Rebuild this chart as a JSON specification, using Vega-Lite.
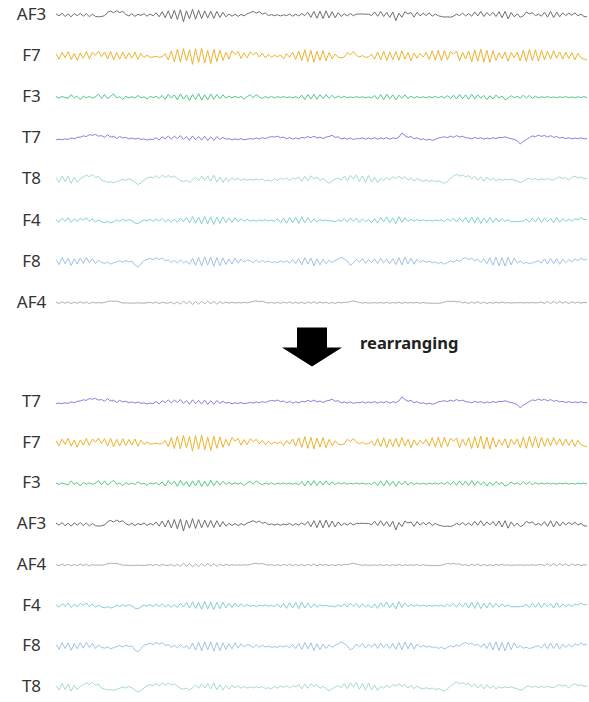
{
"$schema": "https://vega.github.io/schema/vega-lite/v6.json",
"padding": {"left": 16, "top": 0, "right": 0, "bottom": 0},
"background": "white",
"spacing": 0,
"bounds": "flush",
"config": {"view": {"stroke": null}},
"datasets": {"eeg": [
{"t":0,"AF3":0.8,"F7":1.5,"F3":0.4,"T7":-1,"T8":1,"F4":0.6,"F8":1.4,"AF4":0.3},
{"t":1,"AF3":-0.6,"F7":-2,"F3":-0.6,"T7":-0.6,"T8":-2,"F4":-1,"F8":-2,"AF4":-0.5},
{"t":2,"AF3":1.2,"F7":2.5,"F3":0.5,"T7":-0.9,"T8":2.4,"F4":1.4,"F8":2.6,"AF4":0.6},
{"t":3,"AF3":-1,"F7":-1,"F3":-0.3,"T7":-0.4,"T8":-1.6,"F4":-0.4,"F8":-1.4,"AF4":-0.4},
{"t":4,"AF3":0.7,"F7":3,"F3":-0.8,"T7":-0.8,"T8":2,"F4":1.8,"F8":2.2,"AF4":0.5},
{"t":5,"AF3":-1.2,"F7":-2.2,"F3":1.8,"T7":0.2,"T8":-2.6,"F4":-1.2,"F8":-2.6,"AF4":-0.6},
{"t":6,"AF3":1,"F7":1.8,"F3":-0.5,"T7":-0.3,"T8":1.2,"F4":1,"F8":1.8,"AF4":0.4},
{"t":7,"AF3":-0.5,"F7":-2.8,"F3":0.6,"T7":0.6,"T8":-1.8,"F4":-0.8,"F8":-1.6,"AF4":-0.5},
{"t":8,"AF3":1.1,"F7":2,"F3":-1.6,"T7":0.8,"T8":0.4,"F4":1.6,"F8":2.4,"AF4":0.6},
{"t":9,"AF3":-0.8,"F7":-1.5,"F3":0.8,"T7":1.6,"T8":1.6,"F4":0.2,"F8":-1.2,"AF4":-0.4},
{"t":10,"AF3":0.9,"F7":3,"F3":-0.4,"T7":1.2,"T8":2.8,"F4":1.8,"F8":2.8,"AF4":0.5},
{"t":11,"AF3":-1.1,"F7":-1.8,"F3":0.5,"T7":2.4,"T8":1.8,"F4":-0.6,"F8":-0.8,"AF4":-0.6},
{"t":12,"AF3":0.5,"F7":2.6,"F3":-0.6,"T7":2,"T8":3.2,"F4":1.2,"F8":2,"AF4":0.3},
{"t":13,"AF3":-0.9,"F7":0.5,"F3":0.3,"T7":2.6,"T8":1.2,"F4":-1,"F8":-1.4,"AF4":-0.2},
{"t":14,"AF3":-1.2,"F7":3.2,"F3":2,"T7":1.4,"T8":2,"F4":0.4,"F8":1,"AF4":0.1},
{"t":15,"AF3":-1,"F7":-0.4,"F3":-0.8,"T7":1.8,"T8":-0.6,"F4":-0.8,"F8":-0.6,"AF4":-0.2},
{"t":16,"AF3":-0.5,"F7":2.8,"F3":1.8,"T7":0.6,"T8":-1.2,"F4":-1.4,"F8":-1.2,"AF4":0.2},
{"t":17,"AF3":1.8,"F7":-2,"F3":-1,"T7":2.4,"T8":-2,"F4":-0.6,"F8":-0.4,"AF4":0.8},
{"t":18,"AF3":2.6,"F7":3,"F3":0.6,"T7":0.8,"T8":-1.6,"F4":-1.6,"F8":-1.6,"AF4":1.2},
{"t":19,"AF3":1.5,"F7":-2.6,"F3":2.2,"T7":1.4,"T8":-2.2,"F4":-0.8,"F8":-0.8,"AF4":0.9},
{"t":20,"AF3":2.8,"F7":2.4,"F3":-0.5,"T7":-0.2,"T8":-1.4,"F4":0.4,"F8":-0.2,"AF4":1.1},
{"t":21,"AF3":1.6,"F7":-2,"F3":0.4,"T7":1.2,"T8":-0.8,"F4":-0.6,"F8":0.6,"AF4":0.4},
{"t":22,"AF3":2.4,"F7":2.8,"F3":-1.4,"T7":0.2,"T8":0.2,"F4":0.8,"F8":-0.4,"AF4":-0.2},
{"t":23,"AF3":0.4,"F7":-1.8,"F3":0.6,"T7":0.6,"T8":-0.6,"F4":-0.4,"F8":0.8,"AF4":-0.1},
{"t":24,"AF3":-0.6,"F7":2.2,"F3":-0.5,"T7":-0.4,"T8":0.4,"F4":0.6,"F8":-0.2,"AF4":-0.3},
{"t":25,"AF3":0.8,"F7":-1.4,"F3":0.4,"T7":0.2,"T8":-0.4,"F4":-0.2,"F8":0.4,"AF4":-0.2},
{"t":26,"AF3":-0.9,"F7":2.6,"F3":-0.6,"T7":-0.6,"T8":-2,"F4":-1.6,"F8":-2.4,"AF4":-0.3},
{"t":27,"AF3":0.5,"F7":-2.2,"F3":1.2,"T7":0.1,"T8":-3.4,"F4":-2.2,"F8":-3.6,"AF4":-0.1},
{"t":28,"AF3":-0.3,"F7":1.8,"F3":-0.4,"T7":-0.8,"T8":-2.2,"F4":-0.6,"F8":-1.6,"AF4":-0.2},
{"t":29,"AF3":0.9,"F7":-1,"F3":0.3,"T7":-0.4,"T8":-0.6,"F4":0.4,"F8":0.8,"AF4":-0.3},
{"t":30,"AF3":-0.8,"F7":0.6,"F3":-1.2,"T7":-1.2,"T8":0.8,"F4":-0.4,"F8":1.4,"AF4":-0.1},
{"t":31,"AF3":0.6,"F7":-0.8,"F3":0.5,"T7":-0.6,"T8":1.6,"F4":0.8,"F8":2.2,"AF4":0.3},
{"t":32,"AF3":-0.5,"F7":-0.6,"F3":-0.3,"T7":-0.8,"T8":1,"F4":-0.6,"F8":1.2,"AF4":-0.4},
{"t":33,"AF3":1.5,"F7":-0.2,"F3":0.6,"T7":0.4,"T8":2.4,"F4":1,"F8":2.6,"AF4":0.5},
{"t":34,"AF3":-1.2,"F7":-0.8,"F3":-0.8,"T7":-1.2,"T8":0.8,"F4":-0.4,"F8":1.4,"AF4":-0.6},
{"t":35,"AF3":2.2,"F7":-0.4,"F3":1.2,"T7":1,"T8":2.8,"F4":1.2,"F8":2.4,"AF4":0.3},
{"t":36,"AF3":-1.8,"F7":1.5,"F3":-1.6,"T7":-0.4,"T8":1.2,"F4":-0.8,"F8":0.6,"AF4":-0.2},
{"t":37,"AF3":2.8,"F7":-2.5,"F3":2,"T7":1.6,"T8":2.6,"F4":0.6,"F8":1.2,"AF4":-0.3},
{"t":38,"AF3":-2.5,"F7":3.5,"F3":-0.6,"T7":-0.6,"T8":1.4,"F4":-1,"F8":-0.6,"AF4":0.4},
{"t":39,"AF3":3.2,"F7":-3.8,"F3":1.6,"T7":1.4,"T8":2.2,"F4":0.8,"F8":0.8,"AF4":-0.8},
{"t":40,"AF3":-3,"F7":4.5,"F3":-1.8,"T7":-0.2,"T8":0.6,"F4":-1.2,"F8":-1,"AF4":0.6},
{"t":41,"AF3":3.5,"F7":-4,"F3":2.2,"T7":1.8,"T8":-0.8,"F4":1.6,"F8":1.2,"AF4":-1},
{"t":42,"AF3":-4.5,"F7":5,"F3":-1.2,"T7":-0.8,"T8":-1.4,"F4":-0.8,"F8":-0.8,"AF4":1.2},
{"t":43,"AF3":2.8,"F7":-3.2,"F3":1.4,"T7":1.2,"T8":-0.6,"F4":2.2,"F8":0.4,"AF4":-0.9},
{"t":44,"AF3":-2.6,"F7":4.2,"F3":-2.2,"T7":-1.4,"T8":-2,"F4":-1.6,"F8":-1.8,"AF4":1.1},
{"t":45,"AF3":3.8,"F7":-5.5,"F3":1.8,"T7":1.6,"T8":-0.4,"F4":2.6,"F8":2.2,"AF4":-1.2},
{"t":46,"AF3":-2.8,"F7":4.8,"F3":-1.6,"T7":-1,"T8":1.4,"F4":-1.8,"F8":-2.6,"AF4":0.8},
{"t":47,"AF3":3.2,"F7":-4.2,"F3":2.4,"T7":1.2,"T8":-0.8,"F4":2.2,"F8":2.8,"AF4":-1},
{"t":48,"AF3":-2.4,"F7":5.2,"F3":-2,"T7":-1.2,"T8":2.2,"F4":-2.4,"F8":-3,"AF4":0.9},
{"t":49,"AF3":2.8,"F7":-4.6,"F3":1.6,"T7":1.4,"T8":-0.6,"F4":2.8,"F8":3.2,"AF4":-0.7},
{"t":50,"AF3":-2,"F7":3.8,"F3":-1.8,"T7":-1.6,"T8":2.4,"F4":-2.2,"F8":-2.4,"AF4":1},
{"t":51,"AF3":2.6,"F7":-5,"F3":2.2,"T7":1,"T8":-1.2,"F4":2.4,"F8":3,"AF4":-0.8},
{"t":52,"AF3":-2.2,"F7":4.5,"F3":-1.4,"T7":-1.4,"T8":2.8,"F4":-2.6,"F8":-3.2,"AF4":0.9},
{"t":53,"AF3":2.4,"F7":-3.6,"F3":1.8,"T7":1.2,"T8":-1.8,"F4":2.2,"F8":2.6,"AF4":-1},
{"t":54,"AF3":-1.6,"F7":4,"F3":-1,"T7":-0.8,"T8":1.6,"F4":-2,"F8":-2.8,"AF4":0.7},
{"t":55,"AF3":1.8,"F7":-3,"F3":1.6,"T7":0.6,"T8":-2,"F4":2.4,"F8":2.4,"AF4":-0.5},
{"t":56,"AF3":-1.2,"F7":2.4,"F3":-0.6,"T7":-0.6,"T8":1,"F4":-1.4,"F8":-2,"AF4":0.4},
{"t":57,"AF3":0.6,"F7":-2,"F3":0.8,"T7":-0.2,"T8":-1.4,"F4":1.6,"F8":1.8,"AF4":-0.3},
{"t":58,"AF3":-0.8,"F7":3.6,"F3":-0.5,"T7":-1,"T8":1.2,"F4":-1.2,"F8":-1.6,"AF4":0.2},
{"t":59,"AF3":0.5,"F7":1.2,"F3":0.6,"T7":-0.4,"T8":-0.4,"F4":1.8,"F8":2.4,"AF4":-0.2},
{"t":60,"AF3":-0.9,"F7":3,"F3":-0.4,"T7":-0.8,"T8":0.8,"F4":-0.8,"F8":-1,"AF4":0.1},
{"t":61,"AF3":0.4,"F7":-1.6,"F3":0.5,"T7":-0.3,"T8":-0.8,"F4":1.2,"F8":1.8,"AF4":-0.2},
{"t":62,"AF3":-0.6,"F7":2.2,"F3":-1.2,"T7":-1,"T8":0.4,"F4":-0.6,"F8":-0.4,"AF4":0.2},
{"t":63,"AF3":0.8,"F7":-1.2,"F3":0.4,"T7":-0.6,"T8":-0.6,"F4":0.8,"F8":1.2,"AF4":-0.1},
{"t":64,"AF3":1.6,"F7":2.8,"F3":1.6,"T7":-0.2,"T8":0.2,"F4":-0.4,"F8":0.6,"AF4":0.3},
{"t":65,"AF3":2.4,"F7":0.8,"F3":-0.4,"T7":-0.6,"T8":-0.6,"F4":0.3,"F8":-0.8,"AF4":0.9},
{"t":66,"AF3":1.2,"F7":2.4,"F3":1.8,"T7":0.2,"T8":0.3,"F4":-0.6,"F8":1.2,"AF4":1.2},
{"t":67,"AF3":2.2,"F7":-0.6,"F3":0.2,"T7":-0.4,"T8":-0.5,"F4":0.4,"F8":-0.6,"AF4":0.7},
{"t":68,"AF3":0.6,"F7":1.8,"F3":-0.8,"T7":0.4,"T8":0.4,"F4":-0.2,"F8":0.8,"AF4":1},
{"t":69,"AF3":1.4,"F7":-1.2,"F3":0.4,"T7":-0.2,"T8":-1,"F4":0.5,"F8":-0.4,"AF4":0.3},
{"t":70,"AF3":-0.4,"F7":1.2,"F3":-0.5,"T7":0.6,"T8":-0.4,"F4":-0.4,"F8":0.2,"AF4":-0.2},
{"t":71,"AF3":0.3,"F7":-0.8,"F3":0.6,"T7":1.2,"T8":-1.2,"F4":0.3,"F8":-0.6,"AF4":0.2},
{"t":72,"AF3":-0.5,"F7":0.6,"F3":-0.6,"T7":0.8,"T8":0.4,"F4":-0.6,"F8":-0.2,"AF4":-0.4},
{"t":73,"AF3":0.2,"F7":-0.5,"F3":0.4,"T7":1.4,"T8":-0.6,"F4":1.2,"F8":-0.6,"AF4":0.3},
{"t":74,"AF3":-0.6,"F7":0.8,"F3":-0.3,"T7":0.4,"T8":0.8,"F4":-1.4,"F8":0.4,"AF4":-0.5},
{"t":75,"AF3":0.1,"F7":-1.8,"F3":0.5,"T7":0.8,"T8":-0.2,"F4":1.6,"F8":-0.4,"AF4":0.4},
{"t":76,"AF3":-0.4,"F7":1.6,"F3":-0.4,"T7":-0.4,"T8":1,"F4":-1.8,"F8":0.6,"AF4":-0.3},
{"t":77,"AF3":0.6,"F7":-0.8,"F3":0.3,"T7":0.6,"T8":-0.6,"F4":2,"F8":-1,"AF4":0.5},
{"t":78,"AF3":-0.8,"F7":2.6,"F3":-0.5,"T7":-0.6,"T8":0.8,"F4":-1.6,"F8":1.4,"AF4":-0.4},
{"t":79,"AF3":0.5,"F7":-2.2,"F3":0.4,"T7":0.2,"T8":0.2,"F4":2.2,"F8":-1.4,"AF4":0.3},
{"t":80,"AF3":-0.6,"F7":3.4,"F3":-0.8,"T7":-0.4,"T8":1.6,"F4":-2,"F8":2,"AF4":-0.5},
{"t":81,"AF3":0.9,"F7":-3,"F3":1.4,"T7":0.6,"T8":-1.2,"F4":2.4,"F8":-2.2,"AF4":0.4},
{"t":82,"AF3":-0.4,"F7":4.2,"F3":-1.6,"T7":0.2,"T8":2,"F4":-1.6,"F8":2.6,"AF4":-0.6},
{"t":83,"AF3":1.8,"F7":-3.6,"F3":1.8,"T7":1.2,"T8":-0.8,"F4":1.8,"F8":-1.6,"AF4":0.5},
{"t":84,"AF3":-1.6,"F7":3.8,"F3":-1.2,"T7":0.4,"T8":2.4,"F4":-1.4,"F8":2.4,"AF4":-0.4},
{"t":85,"AF3":2.4,"F7":-4,"F3":2,"T7":1.4,"T8":0.4,"F4":1.2,"F8":-2.8,"AF4":0.6},
{"t":86,"AF3":-2.2,"F7":3.2,"F3":-1.4,"T7":0.2,"T8":1.6,"F4":-1,"F8":1.8,"AF4":-0.5},
{"t":87,"AF3":2.6,"F7":-2.8,"F3":1.6,"T7":0.8,"T8":-0.8,"F4":0.6,"F8":-2.2,"AF4":0.4},
{"t":88,"AF3":-2.4,"F7":3.6,"F3":-1,"T7":-0.2,"T8":0.6,"F4":-0.2,"F8":1.6,"AF4":-0.3},
{"t":89,"AF3":2.8,"F7":-3.2,"F3":1.8,"T7":0.8,"T8":-1,"F4":0.3,"F8":-1.4,"AF4":0.4},
{"t":90,"AF3":-2,"F7":2.4,"F3":-0.8,"T7":1.2,"T8":-2.6,"F4":-0.4,"F8":1,"AF4":-0.5},
{"t":91,"AF3":2.2,"F7":-1.8,"F3":1.2,"T7":2,"T8":-1.2,"F4":-0.2,"F8":-0.6,"AF4":0.3},
{"t":92,"AF3":-1.8,"F7":1.4,"F3":-0.6,"T7":0.6,"T8":0.2,"F4":-0.8,"F8":0.8,"AF4":-0.6},
{"t":93,"AF3":1.6,"F7":-0.8,"F3":0.8,"T7":1,"T8":0.8,"F4":0.4,"F8":1.6,"AF4":0.4},
{"t":94,"AF3":-1,"F7":-1.2,"F3":-0.4,"T7":-0.4,"T8":-0.4,"F4":-0.6,"F8":3,"AF4":-0.2},
{"t":95,"AF3":0.8,"F7":-0.6,"F3":0.6,"T7":0.2,"T8":2.2,"F4":1.2,"F8":1.8,"AF4":0.3},
{"t":96,"AF3":-0.6,"F7":2.4,"F3":-0.4,"T7":-0.6,"T8":-1,"F4":-1,"F8":0.4,"AF4":0.2},
{"t":97,"AF3":1,"F7":0.8,"F3":0.2,"T7":0.2,"T8":2.8,"F4":1.6,"F8":-2.4,"AF4":0.8},
{"t":98,"AF3":-0.5,"F7":3,"F3":-0.3,"T7":-0.8,"T8":0.2,"F4":-0.4,"F8":-1,"AF4":1.2},
{"t":99,"AF3":0.6,"F7":0.5,"F3":0.4,"T7":-0.2,"T8":3,"F4":1.4,"F8":1.6,"AF4":0.6},
{"t":100,"AF3":0.6,"F7":-0.6,"F3":-0.2,"T7":-0.4,"T8":-1.4,"F4":-1.2,"F8":-0.4,"AF4":0.2},
{"t":101,"AF3":0.7,"F7":0.4,"F3":0.3,"T7":0.3,"T8":2.4,"F4":1.2,"F8":2,"AF4":-0.3},
{"t":102,"AF3":0.5,"F7":-0.8,"F3":-0.4,"T7":-0.6,"T8":-2,"F4":-0.8,"F8":-1.2,"AF4":0.1},
{"t":103,"AF3":0.6,"F7":-0.5,"F3":0.2,"T7":0.2,"T8":2.6,"F4":0.6,"F8":1.4,"AF4":-0.2},
{"t":104,"AF3":-0.4,"F7":1.2,"F3":-0.6,"T7":-0.4,"T8":-1.8,"F4":-1.6,"F8":-0.6,"AF4":-0.2},
{"t":105,"AF3":2,"F7":-2,"F3":1.2,"T7":0.4,"T8":1.4,"F4":1.2,"F8":1.8,"AF4":0.1},
{"t":106,"AF3":-0.8,"F7":2.8,"F3":-1.4,"T7":-0.6,"T8":-2.2,"F4":-1.8,"F8":-1.4,"AF4":-0.3},
{"t":107,"AF3":2.4,"F7":-2.6,"F3":1.8,"T7":0.2,"T8":0.6,"F4":2,"F8":2.2,"AF4":0.2},
{"t":108,"AF3":-1,"F7":3.4,"F3":-1.6,"T7":-0.3,"T8":-0.8,"F4":-0.8,"F8":-0.8,"AF4":-0.4},
{"t":109,"AF3":1.8,"F7":-3,"F3":2,"T7":0.5,"T8":1.2,"F4":2.4,"F8":1.6,"AF4":0.3},
{"t":110,"AF3":-1.6,"F7":2.6,"F3":-1.2,"T7":-0.6,"T8":-0.4,"F4":-1.4,"F8":-1.4,"AF4":-0.5},
{"t":111,"AF3":2,"F7":-2.4,"F3":1.6,"T7":0.3,"T8":1.8,"F4":1.8,"F8":2,"AF4":0.2},
{"t":112,"AF3":-3.8,"F7":3,"F3":-1.8,"T7":-0.2,"T8":0.6,"F4":-2.2,"F8":-2,"AF4":-0.3},
{"t":113,"AF3":1.2,"F7":-2.8,"F3":1.4,"T7":0.8,"T8":2.2,"F4":2.6,"F8":2.6,"AF4":0.4},
{"t":114,"AF3":-1.5,"F7":3.6,"F3":-0.8,"T7":3.6,"T8":0.4,"F4":-1.2,"F8":-2.2,"AF4":-0.5},
{"t":115,"AF3":2.2,"F7":-2,"F3":1.6,"T7":1.8,"T8":1.8,"F4":1.8,"F8":3,"AF4":0.2},
{"t":116,"AF3":0.8,"F7":2.4,"F3":-1,"T7":0.6,"T8":-0.6,"F4":-0.6,"F8":-1.6,"AF4":-0.3},
{"t":117,"AF3":1.6,"F7":-3.2,"F3":0.8,"T7":1.2,"T8":1,"F4":0.8,"F8":2.4,"AF4":0.1},
{"t":118,"AF3":-1.4,"F7":2,"F3":-0.6,"T7":-0.4,"T8":-1,"F4":-0.4,"F8":-1.8,"AF4":-0.2},
{"t":119,"AF3":1.8,"F7":-1.5,"F3":0.5,"T7":0.4,"T8":0.6,"F4":0.6,"F8":1.6,"AF4":0.3},
{"t":120,"AF3":-0.6,"F7":1.8,"F3":-0.4,"T7":-0.8,"T8":-0.6,"F4":-0.2,"F8":-0.6,"AF4":-0.4},
{"t":121,"AF3":1.2,"F7":-0.6,"F3":0.3,"T7":-0.4,"T8":-1.2,"F4":0.4,"F8":0.8,"AF4":0.2},
{"t":122,"AF3":-0.4,"F7":2.4,"F3":-0.5,"T7":-1.2,"T8":-0.4,"F4":-0.3,"F8":-0.4,"AF4":-0.3},
{"t":123,"AF3":1.4,"F7":-2.2,"F3":0.4,"T7":-0.6,"T8":-1.4,"F4":0.2,"F8":0.2,"AF4":-0.2},
{"t":124,"AF3":-0.8,"F7":3.6,"F3":-0.3,"T7":-1.4,"T8":-0.6,"F4":-0.4,"F8":-0.8,"AF4":-0.5},
{"t":125,"AF3":0.6,"F7":-2.8,"F3":0.5,"T7":-0.8,"T8":-1.6,"F4":0.3,"F8":-0.2,"AF4":-0.3},
{"t":126,"AF3":-0.5,"F7":4,"F3":-0.4,"T7":0.2,"T8":-1,"F4":-0.2,"F8":-1.4,"AF4":-0.4},
{"t":127,"AF3":-1,"F7":-3,"F3":0.6,"T7":0.6,"T8":-1.8,"F4":0.4,"F8":-0.4,"AF4":-0.1},
{"t":128,"AF3":-1.4,"F7":3.8,"F3":-0.5,"T7":1,"T8":-2.6,"F4":-0.6,"F8":-1.8,"AF4":0.4},
{"t":129,"AF3":-1.2,"F7":-2.4,"F3":1,"T7":0.4,"T8":-1.2,"F4":1,"F8":-0.6,"AF4":1},
{"t":130,"AF3":-1.5,"F7":3,"F3":-0.8,"T7":1.4,"T8":0.6,"F4":-0.4,"F8":0.4,"AF4":0.7},
{"t":131,"AF3":-0.8,"F7":1.2,"F3":1.4,"T7":0.6,"T8":2.2,"F4":1.6,"F8":-0.4,"AF4":1.1},
{"t":132,"AF3":0.6,"F7":3.4,"F3":-1.2,"T7":1.8,"T8":3.4,"F4":-1,"F8":1,"AF4":0.5},
{"t":133,"AF3":-0.4,"F7":-3.2,"F3":1.8,"T7":0.8,"T8":2.2,"F4":1.8,"F8":0.2,"AF4":0.8},
{"t":134,"AF3":1.2,"F7":2.6,"F3":-1,"T7":1.4,"T8":3,"F4":-0.8,"F8":1.8,"AF4":-0.2},
{"t":135,"AF3":-0.6,"F7":-2,"F3":1.6,"T7":0.4,"T8":1.6,"F4":2,"F8":2.6,"AF4":0.3},
{"t":136,"AF3":0.9,"F7":3.4,"F3":-1.4,"T7":0.2,"T8":2.6,"F4":-1.6,"F8":1.4,"AF4":-0.6},
{"t":137,"AF3":-0.8,"F7":-3.8,"F3":2,"T7":-0.4,"T8":0.2,"F4":2.4,"F8":2.2,"AF4":0.5},
{"t":138,"AF3":2,"F7":4.2,"F3":-1.2,"T7":0.6,"T8":2.2,"F4":-1.8,"F8":0.6,"AF4":-0.4},
{"t":139,"AF3":-0.6,"F7":-3.4,"F3":1.6,"T7":-0.2,"T8":-0.6,"F4":2.2,"F8":1.6,"AF4":0.7},
{"t":140,"AF3":2.4,"F7":4.6,"F3":-0.8,"T7":0.4,"T8":1.8,"F4":-2,"F8":-0.6,"AF4":-0.5},
{"t":141,"AF3":-1,"F7":-4,"F3":1.2,"T7":-0.6,"T8":-1.2,"F4":1.6,"F8":1.8,"AF4":0.4},
{"t":142,"AF3":1.6,"F7":3.8,"F3":-1.6,"T7":0.2,"T8":1.6,"F4":-1.4,"F8":-1.4,"AF4":-0.6},
{"t":143,"AF3":-0.4,"F7":-4.2,"F3":1,"T7":-0.4,"T8":-0.8,"F4":2,"F8":2.6,"AF4":0.3},
{"t":144,"AF3":1.8,"F7":3.6,"F3":-1.2,"T7":0.4,"T8":0.8,"F4":-1.2,"F8":-2.4,"AF4":-0.5},
{"t":145,"AF3":-1,"F7":-2.8,"F3":1.4,"T7":-0.2,"T8":-1.2,"F4":1.6,"F8":3,"AF4":0.4},
{"t":146,"AF3":2.2,"F7":2.2,"F3":-0.6,"T7":0.6,"T8":0.4,"F4":-1,"F8":-2.8,"AF4":-0.3},
{"t":147,"AF3":-1.8,"F7":-1.6,"F3":0.8,"T7":0.4,"T8":-0.6,"F4":1.2,"F8":2.6,"AF4":0.5},
{"t":148,"AF3":2.4,"F7":2.8,"F3":-1.8,"T7":1,"T8":0.2,"F4":-0.6,"F8":-3,"AF4":-0.2},
{"t":149,"AF3":-2.6,"F7":-3.4,"F3":-0.6,"T7":0.2,"T8":-0.4,"F4":0.4,"F8":2.8,"AF4":0.1},
{"t":150,"AF3":1.6,"F7":2.4,"F3":1,"T7":-0.2,"T8":0.2,"F4":-0.8,"F8":-2.2,"AF4":-0.3},
{"t":151,"AF3":-1.2,"F7":-1,"F3":-0.4,"T7":-0.8,"T8":-0.6,"F4":-0.6,"F8":2.4,"AF4":0},
{"t":152,"AF3":0.8,"F7":2.6,"F3":0.6,"T7":-1.6,"T8":-1,"F4":-0.8,"F8":-1,"AF4":-0.1},
{"t":153,"AF3":-1.5,"F7":-3.2,"F3":-0.8,"T7":-3.8,"T8":-2.2,"F4":-0.6,"F8":0.4,"AF4":0.1},
{"t":154,"AF3":-0.6,"F7":4,"F3":1.4,"T7":-2,"T8":-1.4,"F4":-0.4,"F8":-1.2,"AF4":-0.2},
{"t":155,"AF3":2,"F7":-3.6,"F3":-0.6,"T7":-0.8,"T8":0.2,"F4":1,"F8":-0.6,"AF4":0},
{"t":156,"AF3":0.8,"F7":4.4,"F3":1.2,"T7":0.4,"T8":0.8,"F4":-1.2,"F8":-1.4,"AF4":-0.1},
{"t":157,"AF3":1.6,"F7":-3,"F3":-0.8,"T7":1.6,"T8":-0.2,"F4":1.6,"F8":-0.8,"AF4":0.1},
{"t":158,"AF3":-0.5,"F7":4.2,"F3":0.6,"T7":1,"T8":0.6,"F4":-1,"F8":-0.2,"AF4":-0.2},
{"t":159,"AF3":0.6,"F7":-3.4,"F3":-0.4,"T7":2.2,"T8":-0.4,"F4":2,"F8":0.6,"AF4":0.1},
{"t":160,"AF3":-0.8,"F7":3.8,"F3":0.3,"T7":1.2,"T8":0.4,"F4":-1.4,"F8":-1.2,"AF4":0.4},
{"t":161,"AF3":1.8,"F7":-2.4,"F3":-0.2,"T7":2,"T8":-0.2,"F4":1.8,"F8":1.8,"AF4":-0.5},
{"t":162,"AF3":-1.4,"F7":3.2,"F3":0.4,"T7":0.8,"T8":0.6,"F4":-0.8,"F8":-1.6,"AF4":0.8},
{"t":163,"AF3":2.4,"F7":-2,"F3":-0.3,"T7":1.8,"T8":-0.2,"F4":1.4,"F8":2.2,"AF4":-0.6},
{"t":164,"AF3":-1.8,"F7":3.6,"F3":0.2,"T7":0.6,"T8":-0.4,"F4":-1.6,"F8":-1.4,"AF4":0.9},
{"t":165,"AF3":2,"F7":-1.4,"F3":-0.4,"T7":1.2,"T8":0.8,"F4":2,"F8":2,"AF4":-0.5},
{"t":166,"AF3":-1.2,"F7":2.8,"F3":0.3,"T7":0.2,"T8":1.6,"F4":-1.2,"F8":-1.8,"AF4":1},
{"t":167,"AF3":1.4,"F7":-2,"F3":-0.2,"T7":0.6,"T8":0.6,"F4":1.2,"F8":1.6,"AF4":-0.4},
{"t":168,"AF3":-0.4,"F7":2.6,"F3":0.4,"T7":-0.2,"T8":1.2,"F4":-0.6,"F8":-0.8,"AF4":0.8},
{"t":169,"AF3":1.2,"F7":-1.6,"F3":-0.3,"T7":0.4,"T8":-0.6,"F4":0.8,"F8":1.4,"AF4":-0.6},
{"t":170,"AF3":-0.2,"F7":2.2,"F3":0.2,"T7":-0.4,"T8":1.4,"F4":-0.4,"F8":-0.4,"AF4":0.7},
{"t":171,"AF3":1.4,"F7":-2.4,"F3":-0.4,"T7":0.2,"T8":2.2,"F4":1.2,"F8":1.8,"AF4":-0.3},
{"t":172,"AF3":-0.5,"F7":1.8,"F3":0.3,"T7":-0.3,"T8":1,"F4":0.4,"F8":0.6,"AF4":0.5},
{"t":173,"AF3":0.6,"F7":-1.2,"F3":-0.2,"T7":0.3,"T8":1.6,"F4":1.8,"F8":2.4,"AF4":-0.4},
{"t":174,"AF3":-1,"F7":-2,"F3":0.4,"T7":-0.4,"T8":0.4,"F4":0.6,"F8":1,"AF4":0.2},
{"t":175,"AF3":-1.2,"F7":-2.6,"F3":-0.3,"T7":-0.2,"T8":0.8,"F4":0.8,"F8":1.6,"AF4":-0.1}
]},
"vconcat": [
{
 "data": {"name": "eeg"},
 "transform": [{"fold": ["AF3","F7","F3","T7","T8","F4","F8","AF4"], "as": ["ch","v"]}],
 "width": 531, "height": 318,
 "mark": {"type": "line", "strokeWidth": 1, "clip": false},
 "encoding": {
  "x": {"field": "t", "type": "quantitative", "scale": {"domain": [0,175], "nice": false, "zero": false}, "axis": null},
  "y": {"field": "ch", "type": "nominal", "sort": ["AF3","F7","F3","T7","T8","F4","F8","AF4"],
    "scale": {"type": "band", "paddingInner": 0, "paddingOuter": 0, "range": [-5.55, 323.25]},
    "axis": {"title": null, "ticks": false, "tickSize": 0, "domain": false, "grid": false, "labelAlign": "center", "labelBaseline": "middle", "labelPadding": 25, "labelFont": "Noto Sans", "labelFontSize": 17, "labelColor": "#333333"}},
  "yOffset": {"field": "v", "type": "quantitative", "scale": {"domain": [-10,10], "range": [35.55, 5.55], "nice": false, "zero": false}},
  "order": {"field": "t", "type": "quantitative"},
  "color": {"field": "ch", "type": "nominal", "legend": null,
    "scale": {"domain": ["AF3","F7","F3","T7","T8","F4","F8","AF4"], "range": ["#6e6e76","#eeb32e","#52c987","#8a80dc","#a3dec4","#82d0d6","#9fc4e6","#b0b0b0"]}}
 }
},
{
 "width": 531, "height": 69,
 "layer": [
  {
   "data": {"values": [{"x": 312, "y": 347}]},
   "mark": {"type": "point", "shape": "M-0.5,-0.65L0.5,-0.65L0.5,0.02L1,0.02L0,0.65L-1,0.02L-0.5,0.02Z", "filled": true, "color": "#000000", "opacity": 1, "size": 3600, "strokeWidth": 0},
   "encoding": {
    "x": {"field": "x", "type": "quantitative", "scale": {"domain": [56,587], "nice": false, "zero": false}, "axis": null},
    "y": {"field": "y", "type": "quantitative", "scale": {"domain": [387,318], "nice": false, "zero": false}, "axis": null}
   }
  },
  {
   "data": {"values": [{"x": 360, "y": 344, "label": "rearranging"}]},
   "mark": {"type": "text", "align": "left", "baseline": "middle", "font": "Noto Sans", "fontWeight": "bold", "fontSize": 16.5, "color": "#222222"},
   "encoding": {
    "x": {"field": "x", "type": "quantitative", "scale": {"domain": [56,587], "nice": false, "zero": false}, "axis": null},
    "y": {"field": "y", "type": "quantitative", "scale": {"domain": [387,318], "nice": false, "zero": false}, "axis": null},
    "text": {"field": "label"}
   }
  }
 ]
},
{
 "data": {"name": "eeg"},
 "transform": [{"fold": ["AF3","F7","F3","T7","T8","F4","F8","AF4"], "as": ["ch","v"]}],
 "width": 531, "height": 315,
 "mark": {"type": "line", "strokeWidth": 1, "clip": false},
 "encoding": {
  "x": {"field": "t", "type": "quantitative", "scale": {"domain": [0,175], "nice": false, "zero": false}, "axis": null},
  "y": {"field": "ch", "type": "nominal", "sort": ["T7","F7","F3","AF3","AF4","F4","F8","T8"],
    "scale": {"type": "band", "paddingInner": 0, "paddingOuter": 0, "range": [-5.35, 320.25]},
    "axis": {"title": null, "ticks": false, "tickSize": 0, "domain": false, "grid": false, "labelAlign": "center", "labelBaseline": "middle", "labelPadding": 25, "labelFont": "Noto Sans", "labelFontSize": 17, "labelColor": "#333333"}},
  "yOffset": {"field": "v", "type": "quantitative", "scale": {"domain": [-10,10], "range": [35.35, 5.35], "nice": false, "zero": false}},
  "order": {"field": "t", "type": "quantitative"},
  "color": {"field": "ch", "type": "nominal", "legend": null,
    "scale": {"domain": ["AF3","F7","F3","T7","T8","F4","F8","AF4"], "range": ["#6e6e76","#eeb32e","#52c987","#8a80dc","#a3dec4","#82d0d6","#9fc4e6","#b0b0b0"]}}
 }
}
]
}
